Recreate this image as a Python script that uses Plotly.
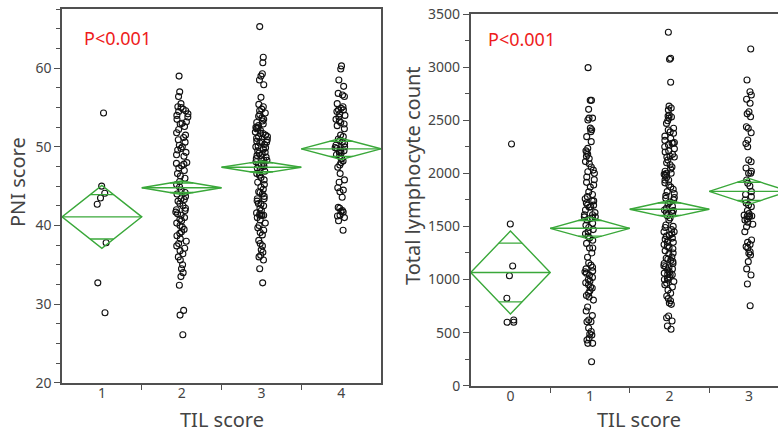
import plotly.graph_objects as go
import math

# ---------------- data ----------------
pni_cats = [1, 2, 3, 4]
pni_1 = [54.3, 45.0, 44.1, 43.5, 42.7, 37.8, 32.7, 28.9]
pni_2 = [59.0, 57.0, 56.4, 55.5, 55.1, 54.8, 54.5, 54.2, 54.0, 53.8, 53.5, 53.0, 52.6, 52.2,
         51.2, 50.6, 50.2, 50.0, 49.8, 49.6, 49.3, 49.0, 48.8, 48.0, 47.9, 47.6, 47.3, 47.0,
         46.6, 46.3, 46.0, 45.6, 45.2, 44.9, 44.5, 44.2, 44.0, 43.7, 43.4, 43.1, 42.8, 42.5,
         42.2, 41.9, 41.5, 41.3, 41.0, 40.6, 40.3, 40.0, 39.8, 39.5, 39.2, 39.0, 38.7, 38.3,
         38.0, 37.7, 37.4, 37.1, 36.8, 36.4, 36.0, 35.6, 35.0, 34.5, 34.0, 33.5, 32.4, 29.2,
         28.6, 26.1, 55.0, 54.6, 53.2, 52.9, 51.8, 51.5, 50.9, 47.8, 42.0, 41.7, 40.8, 43.3]
pni_3 = [65.3, 61.4, 60.7, 59.3, 59.0, 58.5, 57.9, 56.3, 55.4, 55.1, 54.8, 54.6, 54.3,
         54.1, 53.9, 53.7, 53.5, 53.3, 53.1, 52.9, 52.7, 52.5, 52.3, 52.1, 51.9, 51.7, 51.5,
         51.3, 51.1, 50.9, 50.7, 50.5, 50.3, 50.1, 49.9, 49.7, 49.5, 49.3, 49.1, 48.9, 48.7,
         48.5, 48.3, 48.1, 47.9, 47.7, 47.5, 47.3, 47.1, 46.9, 46.7,
         52.4, 52.4, 51.7, 51.3, 50.6, 50.6, 50.0, 49.2, 48.9, 48.3, 47.7, 46.6,
         46.4, 46.1, 45.8, 45.5, 45.2, 44.9, 44.6, 44.3, 44.0, 43.7, 43.4, 43.1, 42.8, 42.5,
         42.2, 41.9, 41.6, 41.3, 41.0, 40.7,
         44.2, 43.4, 42.7, 41.5, 41.3,
         41.3, 41.3, 40.3, 40.0, 39.7, 39.4, 39.1, 38.8, 38.1, 37.7, 37.4, 36.9, 36.6, 36.2,
         36.0, 35.6, 34.5, 32.7]
pni_4 = [60.3, 59.9, 58.5, 57.7, 56.6, 56.4, 55.1, 54.7, 54.7, 54.2, 54.0, 53.5, 53.1, 52.7,
         52.3, 51.5, 51.3, 50.8, 50.6, 50.0, 49.8, 49.5, 49.2, 49.0, 48.8, 48.5, 48.2, 48.0,
         47.7, 47.4, 46.6, 45.8, 45.5, 44.8, 44.5, 44.3, 43.6, 42.3, 42.2, 41.8, 41.3, 41.9,
         41.7, 41.2, 41.0, 40.6, 39.4, 55.5, 54.5, 53.8, 52.9, 51.0, 50.4, 50.2, 49.9, 49.6,
         49.3, 56.8, 54.9, 53.3]
pni_groups = [pni_1, pni_2, pni_3, pni_4]
pni_mean = [41.1, 44.8, 47.4, 49.75]
pni_ci_half = [4.0, 0.85, 0.8, 1.35]

tlc_cats = [0, 1, 2, 3]
tlc_0 = [2276, 1523, 1127, 1036, 823, 619, 597, 597]
tlc_1 = [2995, 2687, 2687, 2602, 2520, 2520, 2502, 2425, 2410, 2392,
         2345, 2298, 2235, 2213, 2200, 2180, 2160, 2140, 2110, 2090,
         2060, 2030, 2015, 2000, 1965, 1940, 1915, 1890, 1870, 1825,
         1800, 1780, 1760, 1740, 1720, 1700, 1685, 1740, 1700, 1680,
         1610, 1655, 1630, 1610, 1590, 1575, 1560, 1590, 1580, 1530,
         1510, 1490, 1470, 1450, 1430, 1410, 1390, 1370, 1340, 1296,
         1296, 1250, 1210, 1155, 1135, 1115, 1100, 1080, 1073, 1060,
         1040, 1020, 1000, 985, 970, 950, 930, 920, 895, 870,
         850, 835, 806, 741, 703, 660, 619, 602, 602, 543,
         510, 487, 477, 449, 430, 399, 399, 226]
tlc_2 = [3328, 3083, 3074, 2857, 2633, 2615, 2597, 2548, 2540, 2530,
         2520, 2495, 2470, 2424, 2408, 2390, 2377, 2350, 2330, 2310,
         2290, 2283, 2270, 2283, 2250, 2230, 2210, 2200, 2180, 2160,
         2153, 2153, 2125, 2100, 2080, 2060, 2040, 2020, 2000, 1980,
         1960, 1937, 2000, 1990, 1937, 1910, 1890, 1870, 1850, 1827,
         1810, 1790, 1772, 1764, 1750, 1730, 1710, 1690, 1670, 1650,
         1640, 1624, 1654, 1630, 1600, 1580, 1560, 1513, 1490, 1470,
         1450, 1430, 1410, 1390, 1370, 1350, 1330, 1310, 1290, 1270,
         1249, 1500, 1450, 1420, 1380, 1350, 1300, 1211, 1190, 1170,
         1150, 1130, 1110, 1090, 1070, 1050, 1023, 1200, 1150, 1100,
         1010, 995, 980, 964, 950, 930, 900, 870, 844, 820,
         800, 778, 766, 1045, 1045, 656, 640, 609, 562, 531,
         1240, 1180, 1120, 1060, 1000]
tlc_3 = [3170, 2878, 2768, 2737, 2697, 2659, 2580, 2560, 2533, 2439, 2424, 2382, 2314,
         2280, 2250, 2125, 2109, 2050, 2020, 2000, 2000, 1937, 1906, 1880, 1827, 1800,
         1780, 1749, 1720, 1701, 1686, 1650, 1620, 1598, 1598, 1598, 1606, 1590, 1570,
         1560, 1540, 1520, 1497, 1450, 1372, 1350, 1330, 1310, 1296, 1262, 1247, 1231,
         1168, 1100, 1042, 958, 753]
tlc_groups = [tlc_0, tlc_1, tlc_2, tlc_3]
tlc_mean = [1066, 1482, 1662, 1830]
tlc_ci_half = [391, 104, 82, 122]

p_text = "P<0.001"
x_title = "TIL score"
y_title_left = "PNI score"
y_title_right = "Total lymphocyte count"

# ---------------- style ----------------
W, H = 778, 432
GREEN = "#3aa83a"
AXC = "#505050"
FONT = "Noto Sans"


def px(x):
    return x / W


def py(y):
    return 1 - y / H


fig = go.Figure()


def add_panel(cats, groups, means, halves, xa, ya):
    for c, vals in zip(cats, groups):
        fig.add_trace(go.Box(
            y=vals, x0=c, width=0.8, boxpoints="all", jitter=0.2, pointpos=0,
            fillcolor="rgba(0,0,0,0)", line=dict(color="rgba(0,0,0,0)", width=0),
            marker=dict(symbol="circle-open", color="#111111", size=6,
                        line=dict(width=1.1)),
            xaxis=xa, yaxis=ya, showlegend=False, hoverinfo="y"))
    for c, m, h in zip(cats, means, halves):
        xs = [c - 0.5, c, c + 0.5, c, c - 0.5, None, c - 0.5, c + 0.5]
        ys = [m, m + h, m, m - h, m, None, m, m]
        o = h / math.sqrt(2)
        hw = 0.5 * (1 - 1 / math.sqrt(2))
        xs += [None, c - hw, c + hw, None, c - hw, c + hw]
        ys += [None, m + o, m + o, None, m - o, m - o]
        fig.add_trace(go.Scatter(x=xs, y=ys, mode="lines",
                                 line=dict(color=GREEN, width=1.4),
                                 xaxis=xa, yaxis=ya, showlegend=False,
                                 hoverinfo="skip"))


add_panel(pni_cats, pni_groups, pni_mean, pni_ci_half, "x", "y")
add_panel(tlc_cats, tlc_groups, tlc_mean, tlc_ci_half, "x2", "y2")

tickfont = dict(family=FONT, size=14, color="#444444")


def xaxis(dom, rng, cats):
    seps = [c + 0.5 for c in cats[:-1]]
    return dict(domain=dom, range=rng, tickmode="array", tickvals=cats,
                ticktext=[str(c) for c in cats], ticks="", showgrid=False,
                zeroline=False, showline=True, linecolor=AXC, linewidth=1.5,
                mirror=True, tickfont=tickfont, automargin=False,
                ticklabelstandoff=-3,
                minor=dict(tickmode="array", tickvals=seps, ticks="outside",
                           ticklen=6, tickwidth=1.2, tickcolor=AXC, showgrid=False))


def yaxis(dom, rng, dt, mdt, mirror, anchor):
    return dict(domain=dom, range=rng, tick0=rng[0], dtick=dt, ticks="outside",
                ticklen=6, tickwidth=1.2, tickcolor=AXC, showgrid=False,
                zeroline=False, showline=True, linecolor=AXC, linewidth=1.5,
                mirror=mirror, tickfont=tickfont, automargin=False, anchor=anchor,
                minor=dict(dtick=mdt, ticks="outside", ticklen=4, tickwidth=1,
                           tickcolor=AXC, showgrid=False))


fig.update_layout(
    width=W, height=H, margin=dict(l=0, r=0, t=0, b=0),
    paper_bgcolor="white", plot_bgcolor="white", boxmode="overlay",
    xaxis=xaxis([px(62), px(381)], [0.5, 4.5], pni_cats),
    yaxis=yaxis([py(382.7), py(9.3)], [20, 67.5], 10, 2.5, True, "x"),
    xaxis2=dict(xaxis([px(470.7), 1.0], [-0.5, 3.365], tlc_cats), anchor="y2"),
    yaxis2=yaxis([py(385.7), py(14)], [0, 3500], 500, 250, False, "x2"),
)

ann = []
ann.append(dict(text=p_text, x=px(82), y=py(38), xanchor="left", yanchor="middle",
                font=dict(family=FONT, size=18, color="#ee1c1c")))
ann.append(dict(text=p_text, x=px(486), y=py(39), xanchor="left", yanchor="middle",
                font=dict(family=FONT, size=18, color="#ee1c1c")))
ann.append(dict(text=x_title, x=px(222), y=py(419), xanchor="center", yanchor="middle",
                font=dict(family=FONT, size=20, color="#444444")))
ann.append(dict(text=x_title, x=px(639), y=py(419), xanchor="center", yanchor="middle",
                font=dict(family=FONT, size=20, color="#444444")))
ann.append(dict(text=y_title_left, x=px(17), y=py(182), xanchor="center", yanchor="middle",
                textangle=-90, font=dict(family=FONT, size=20, color="#444444")))
ann.append(dict(text=y_title_right, x=px(412), y=py(176), xanchor="center", yanchor="middle",
                textangle=-90, font=dict(family=FONT, size=20, color="#444444")))
for a in ann:
    a.update(xref="paper", yref="paper", showarrow=False)
fig.update_layout(annotations=ann)

fig.write_html("out.html", config={"displayModeBar": False},
               post_script="document.body.style.margin='0';document.body.style.overflow='hidden';")
